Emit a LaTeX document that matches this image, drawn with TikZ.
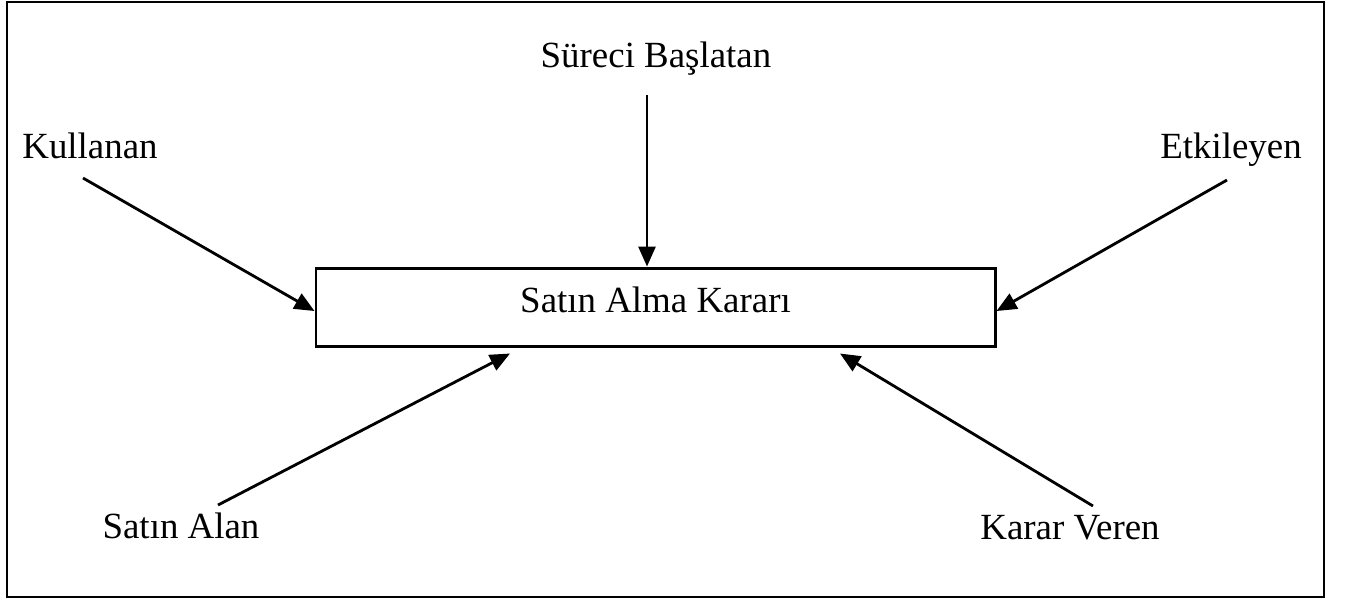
\documentclass[tikz,border=0pt]{standalone}
\usepackage{fontspec}
\setmainfont{Liberation Serif}
\usepackage{xcolor}
\usepackage{tikz}
\usetikzlibrary{arrows.meta,positioning}

\tikzset{
    yazi/.style={anchor=base, inner sep=0pt, font=\fontsize{10.5}{12.6}\selectfont},
    kutu/.style={draw, line width=0.85pt, inner sep=0pt,
        minimum width=6.79cm, minimum height=0.78cm},
    ok/.style={line width=0.8pt, -{Triangle[length=0.2cm,width=0.17cm]}}
}

\begin{document}
\begin{tikzpicture}
                \useasboundingbox (0,0) rectangle (13.46,-6.02);

                % frame
                \draw[
                    line width=0.6pt
                    ] (0.07,-0.02) rectangle (13.24,-5.97);

                % decision box
                \node[kutu] (karar) at (6.555,-3.07) {};
                \node[yazi, yshift=-0.05cm] (kararyazi) at (karar.center) {Satın Alma Kararı};

                % roles
                \node[yazi] (surec) at (6.56,-0.67) {Süreci Başlatan};
                \node[yazi] (kullanan) at (0.90,-1.58) {Kullanan};
                \node[yazi] (etkileyen) at (12.31,-1.58) {Etkileyen};
                \node[yazi] (satinalan) at (1.81,-5.38) {Satın Alan};
                \node[yazi] (kararveren) at (10.70,-5.39) {Karar Veren};

                % line ends near the labels
                \coordinate (surec-uc) at (6.47,-0.95);
                \coordinate (kullanan-uc) at (0.83,-1.78);
                \coordinate (etkileyen-uc) at (12.27,-1.80);
                \coordinate (satinalan-uc) at (2.18,-5.05);
                \coordinate (kararveren-uc) at (10.93,-5.06);

                \draw[ok] (surec-uc) -- (surec-uc |- karar.north);
                \draw[ok] (kullanan-uc) -- ([yshift=-0.04cm]karar.west);
                \draw[ok] (etkileyen-uc) -- ([yshift=-0.04cm]karar.east);
                \draw[ok] (satinalan-uc) -- ([xshift=-1.455cm,yshift=-0.06cm]karar.south);
                \draw[ok] (kararveren-uc) -- ([xshift=1.845cm,yshift=-0.06cm]karar.south);

\end{tikzpicture}
\end{document}
